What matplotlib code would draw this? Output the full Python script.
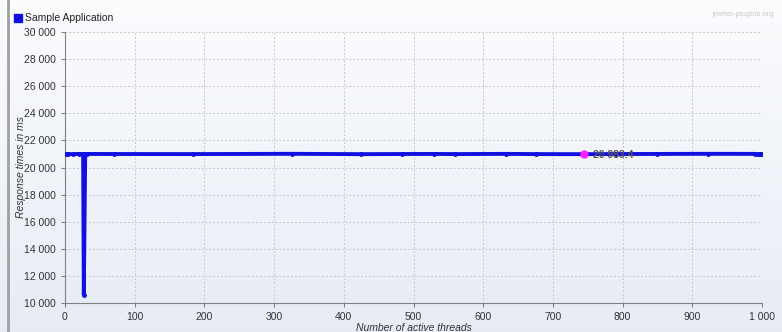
import numpy as np
import matplotlib
matplotlib.use("Agg")
import matplotlib.pyplot as plt
from matplotlib.ticker import FuncFormatter, MultipleLocator

# threads vs response time (ms)
threads = [1, 5, 12, 20, 26, 27, 29, 31, 70, 183, 325, 425, 483, 530, 560, 632,
           676, 745, 790, 850, 922, 990, 994, 997, 1000]
resp_ms = [20990, 20995, 20985, 21005, 20990, 10590, 20995, 21000, 20995, 20990,
           21010, 20985, 20995, 21000, 20990, 21005, 20990, 20983.4, 20995, 21000,
           21010, 21005, 20960, 20995, 20975]
highlight_x = 745
highlight_y = 20983.4
series_name = "Sample Application"

plt.rcParams["font.family"] = ["Liberation Sans", "DejaVu Sans"]

W, H = 782, 332
fig = plt.figure(figsize=(W / 100, H / 100), dpi=100)

# figure background gradient
bg = fig.add_axes([0, 0, 1, 1], zorder=-10)
grad = np.linspace(0, 1, 256).reshape(-1, 1)
top = np.array([0.985, 0.988, 0.995])
bot = np.array([0.905, 0.925, 0.960])
img = top * (1 - grad[..., None]) + bot * grad[..., None]
bg.imshow(img, aspect="auto", extent=[0, 1, 0, 1])
bg.axvline(8 / W, color="#a0a0a0", lw=2)
bg.set_xlim(0, 1)
bg.set_ylim(0, 1)
bg.axis("off")

ax = fig.add_axes([65 / W, 1 - 303 / H, 697 / W, 271 / H])
ax.patch.set_alpha(0)

ax.plot(threads, resp_ms, color="#1010e0", lw=2.8, marker="o", ms=2.5,
        solid_joinstyle="miter", zorder=3)
ax.plot([highlight_x], [highlight_y], "o", color="#ff20ff", ms=5, zorder=4)
ax.annotate("20 983.4", (highlight_x, highlight_y), xytext=(6, -3),
            textcoords="offset points", fontsize=7.5, color="#555555",
            fontweight="bold", zorder=5)

ax.set_xlim(0, 1000)
ax.set_ylim(10000, 30000)
ax.xaxis.set_major_locator(MultipleLocator(100))
ax.yaxis.set_major_locator(MultipleLocator(2000))
fmt = FuncFormatter(lambda v, p: f"{int(v):,}".replace(",", " "))
ax.xaxis.set_major_formatter(fmt)
ax.yaxis.set_major_formatter(fmt)
ax.tick_params(labelsize=7.5, length=3, color="#808080", labelcolor="#333333")
ax.grid(True, ls=(0, (2, 2)), color="#c8c8c8", lw=0.7)
for s in ["top", "right"]:
    ax.spines[s].set_visible(False)
for s in ["left", "bottom"]:
    ax.spines[s].set_color("#808080")

ax.set_xlabel("Number of active threads", fontsize=7.5, style="italic",
              color="#333333", labelpad=1)
ax.set_ylabel("Response times in ms", fontsize=7.5, style="italic",
              color="#333333")
ax.yaxis.set_label_coords(-39 / 697, 0.5)

# legend box and watermark
fig.patches.append(plt.Rectangle((14 / W, 1 - 22 / H), 8 / W, 8 / H,
                                 transform=fig.transFigure, color="#1010e0"))
fig.text(25 / W, 1 - 18 / H, series_name, fontsize=7.5, va="center",
         color="#222222")
fig.text(774 / W, 1 - 14 / H, "jmeter-plugins.org", fontsize=5.5, ha="right",
         va="center", color="#c8c8c8")

fig.savefig("out.png", dpi=100)
